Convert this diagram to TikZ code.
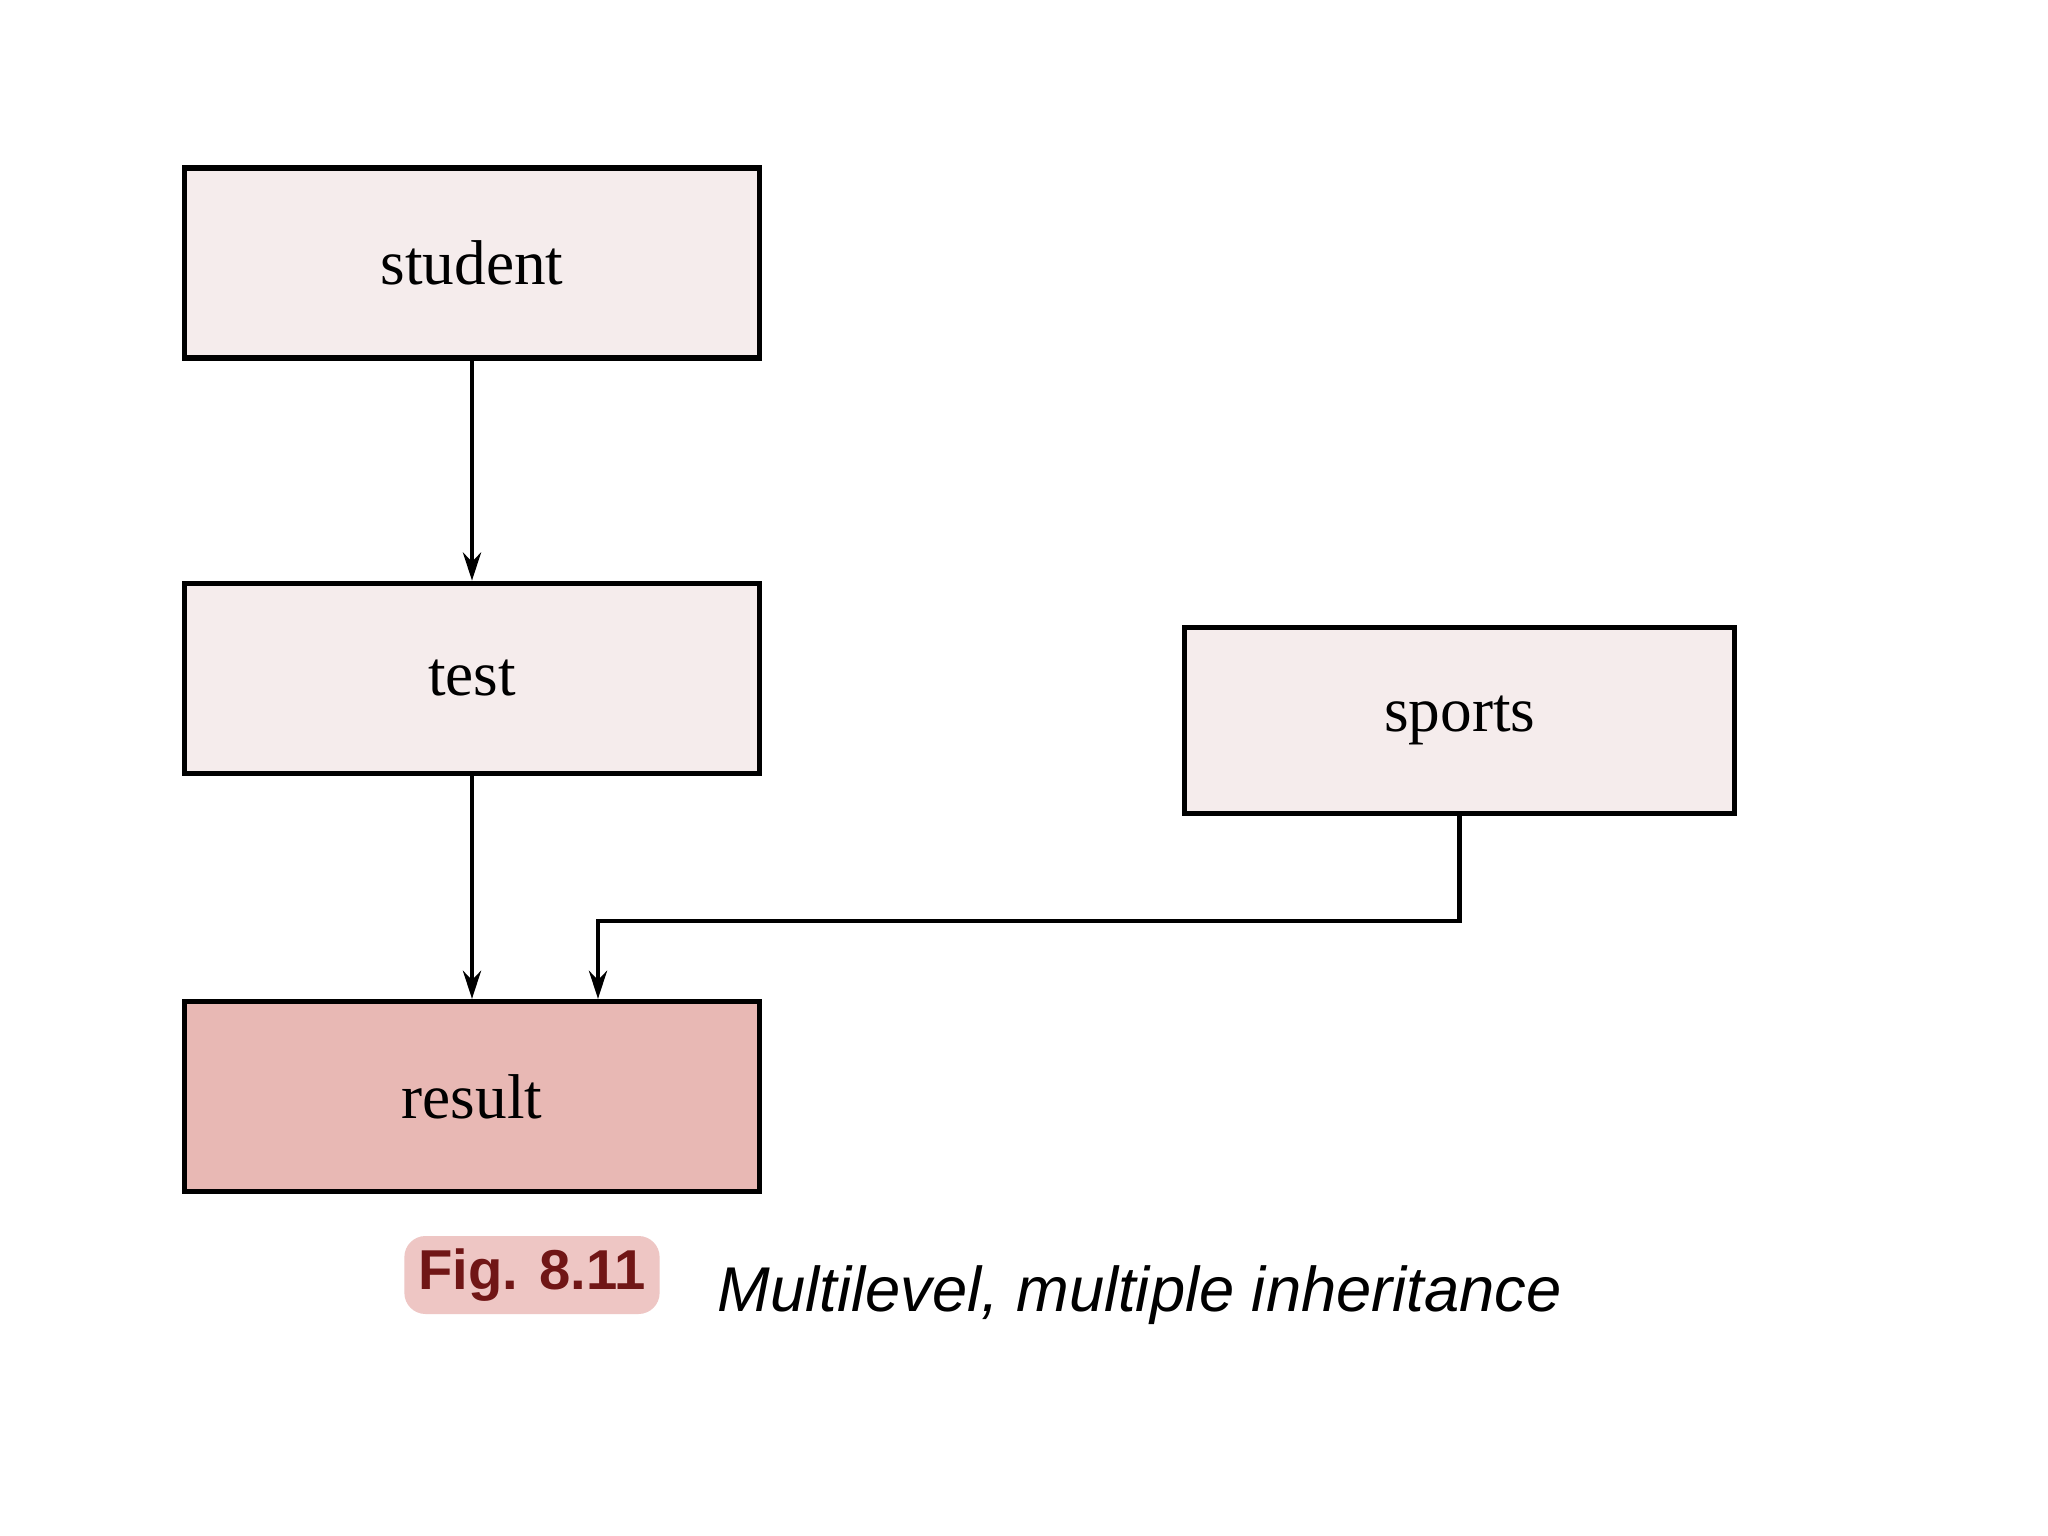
\documentclass[tikz,border=0pt]{standalone}
\usepackage{fontspec}
\setmainfont{Liberation Serif}
\setsansfont{Liberation Sans}
\usepackage{xcolor}
\usepackage{tikz}
\usetikzlibrary{positioning, arrows.meta, calc}
\definecolor{boxfill}{RGB}{245,236,236}
\definecolor{resultfill}{RGB}{232,184,180}
\definecolor{figfill}{RGB}{238,198,196}
\definecolor{figtext}{RGB}{112,22,22}

\begin{document}
\begin{tikzpicture}[node distance=2.2cm,
    classbox/.style={rectangle, draw, line width=1.5pt, fill=boxfill, minimum width=5.75cm, minimum height=1.9cm, font=\fontsize{18}{20}\selectfont},
    >={Stealth[length=2.8mm, width=1.8mm]}]
    \useasboundingbox[fill=white] (0,0) rectangle (20.48,-15.36);
    \node[classbox] (student) at (4.72,-2.63) {student};
    \node[classbox, below=2.2cm of student] (test) {test};
    \node[classbox, fill=resultfill, below=2.23cm of test] (result) {result};
    \node[classbox, minimum width=5.5cm, minimum height=1.86cm, right=4.2cm of test, yshift=-0.42cm] (sports) {sports};
    \coordinate (join) at ([xshift=1.26cm, yshift=0.78cm]result.north);
    \draw[->, line width=1.3pt] (student) -- (test);
    \draw[->, line width=1.3pt] (test) -- (result);
    \draw[->, line width=1.3pt] (sports.south) |- (join) -- (join |- result.north);
    \node[rectangle, rounded corners=6pt, fill=figfill, text=figtext, font=\sffamily\bfseries\fontsize{16}{18}\selectfont, minimum height=0.78cm, inner xsep=4pt] (fig) at (5.32,-12.75) {Fig. 8.11};
    \node[font=\sffamily\itshape\fontsize{18}{20}\selectfont, right=0.45cm of fig, yshift=-0.2cm] (caption) {Multilevel, multiple inheritance};
\end{tikzpicture}
\end{document}
